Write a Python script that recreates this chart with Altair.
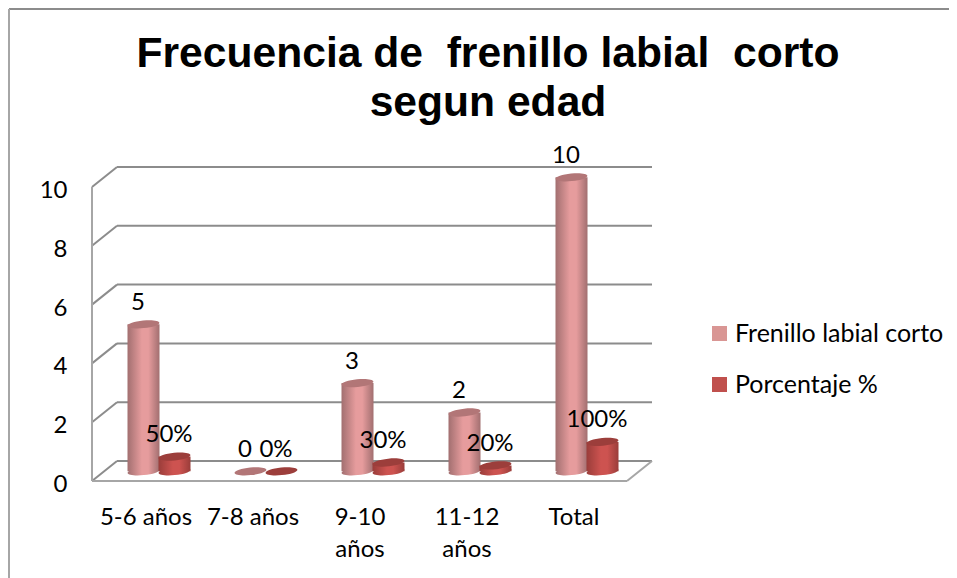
import json
import altair as alt
import pandas as pd

categories = [["5-6 años"], ["7-8 años"], ["9-10", "años"], ["11-12", "años"], ["Total"]]
frenillo = [5, 0, 3, 2, 10]
porcentaje = [0.5, 0.0, 0.3, 0.2, 1.0]
series_names = ["Frenillo labial corto", "Porcentaje %"]
title_lines = ["Frecuencia de \u00a0frenillo labial \u00a0corto", "segun edad"]
y_ticks = [0, 2, 4, 6, 8, 10]

FONT = "Lato"
FS = 24
PX_X = 107.0      # pixels per category
PX_Y = 29.4       # pixels per value unit
VIEW_W, VIEW_H = 560, 321
DEPTH_X = 25 / PX_X
DEPTH_Y = 20 / PX_Y
BASE = 0.33
HALF = 16 / PX_X
GRID = "#8c8c8c"

x_scale = alt.Scale(domain=[-0.5, -0.5 + VIEW_W / PX_X], nice=False, zero=False)
y_scale = alt.Scale(domain=[0, VIEW_H / PX_Y], nice=False, zero=False)


def bars(values, offset_px):
    c = [i + offset_px / PX_X for i in range(len(values))]
    return pd.DataFrame({
        "c": c,
        "x0": [v - HALF for v in c],
        "x1": [v + HALF for v in c],
        "base": [BASE] * len(values),
        "top": [BASE + v for v in values],
        "v": values,
    })


pink = bars(frenillo, -2)
red = bars(porcentaje, 29)

left, right_front, right_back = -0.5, 4.5, -0.5 + VIEW_W / PX_X
back_left = left + DEPTH_X
back = pd.DataFrame({"y": y_ticks})
back["yb"] = back["y"] + DEPTH_Y
back["xa"], back["xb"], back["xc"] = left, back_left, right_back
edges = pd.DataFrame({
    "x": [left, left, right_front],
    "x2": [left, right_front, right_back],
    "y": [0, 0, 0],
    "y2": [10, 0, DEPTH_Y],
})

X = alt.X("x:Q", scale=x_scale, title=None, axis=alt.Axis(
    values=list(range(5)), domain=False, ticks=False, grid=False,
    labelExpr=json.dumps(categories) + "[datum.value]",
    labelFont=FONT, labelFontSize=FS, labelColor="#000000", labelPadding=36,
    labelLineHeight=32, labelOverlap=False, labelBaseline="middle", labelFlush=False))
Y = alt.Y("y:Q", scale=y_scale, title=None, axis=alt.Axis(
    values=y_ticks, domain=False, ticks=False, grid=False, labelPadding=25,
    labelFont=FONT, labelFontSize=FS, labelColor="#000000", labelOffset=3.5))

wall = alt.Chart(back).mark_rule(color=GRID, strokeWidth=2).encode(
    x=alt.X("xb:Q", scale=x_scale), x2="xc:Q",
    y=alt.Y("yb:Q", scale=y_scale))
diag = alt.Chart(back).mark_rule(color=GRID, strokeWidth=2).encode(
    x=alt.X("xa:Q", scale=x_scale), x2="xb:Q",
    y=alt.Y("y:Q", scale=y_scale), y2="yb:Q")
edge = alt.Chart(edges).mark_rule(color="#a6a6a6", strokeWidth=2).encode(
    x=X, x2="x2:Q", y=Y, y2="y2:Q")

frame_top = alt.Chart(pd.DataFrame({"a": [0]})).mark_rule(color=GRID, strokeWidth=2).encode(
    x=alt.value(-83), x2=alt.value(857), y=alt.value(-151))
frame_left = alt.Chart(pd.DataFrame({"a": [0]})).mark_rule(color="#a6a6a6", strokeWidth=2).encode(
    x=alt.value(-83), y=alt.value(-151), y2=alt.value(418))

ELLIPSE = "M-1,0A1,0.24 0 1,1 1,0A1,0.24 0 1,1 -1,0Z"


def cyl(df, dark, light, top_col):
    grad = alt.LinearGradient(gradient="linear", x1=0, x2=1, y1=0, y2=0, stops=[
        alt.GradientStop(color=dark, offset=0),
        alt.GradientStop(color=light, offset=0.45),
        alt.GradientStop(color=light, offset=0.65),
        alt.GradientStop(color=dark, offset=1)])
    nz = df[df["v"] > 0]
    sx = alt.X("c:Q", scale=x_scale)
    bottom = alt.Chart(nz).mark_point(shape=ELLIPSE, size=1024, filled=True, opacity=1,
                                      fill=grad, strokeWidth=0, angle=354).encode(
        x=sx, y=alt.Y("base:Q", scale=y_scale))
    body = alt.Chart(nz).mark_bar(fill=grad, strokeWidth=0).encode(
        x=alt.X("x0:Q", scale=x_scale), x2="x1:Q",
        y=alt.Y("base:Q", scale=y_scale), y2="top:Q")
    cap = alt.Chart(df).mark_point(shape=ELLIPSE, size=1024, filled=True, opacity=1,
                                   fill=top_col, strokeWidth=0, angle=354).encode(
        x=sx, y=alt.Y("top:Q", scale=y_scale))
    return [bottom, body, cap]


legend_df = pd.concat([pink.assign(serie=series_names[0]), red.assign(serie=series_names[1])])
legend_layer = alt.Chart(legend_df).mark_bar(opacity=0).encode(
    x=alt.X("x0:Q", scale=x_scale), x2="x1:Q",
    y=alt.Y("base:Q", scale=y_scale), y2="top:Q",
    color=alt.Color("serie:N", scale=alt.Scale(domain=series_names, range=["#d99694", "#c0504d"]),
                    legend=alt.Legend(title=None, orient="none", legendX=615, legendY=161,
                                      symbolType="square", symbolSize=225, symbolOpacity=1,
                                      symbolStrokeWidth=0, labelFont=FONT, labelFontSize=25,
                                      labelColor="#000000", labelOffset=3, rowPadding=25,
                                      labelLimit=300)))


def labels(df, fmt=None):
    txt = alt.Text("v:Q", format=fmt) if fmt else alt.Text("v:Q")
    return alt.Chart(df).mark_text(font=FONT, fontSize=FS, color="#000000", dx=-5.5, dy=-21.5).encode(
        x=alt.X("c:Q", scale=x_scale), y=alt.Y("top:Q", scale=y_scale), text=txt)


axes = alt.Chart(pd.DataFrame({"x": [0], "y": [0]})).mark_point(opacity=0).encode(x=X, y=Y)

chart = alt.layer(
    axes, frame_top, frame_left, wall, diag, edge,
    *cyl(pink, "#a26f70", "#e69c9d", "#b27677"),
    *cyl(red, "#9a3d3a", "#cd5350", "#9c3e3b"),
    legend_layer,
    labels(pink), labels(red, ".0%"),
).properties(
    width=VIEW_W, height=VIEW_H,
    title=alt.TitleParams(title_lines, font="Liberation Sans", fontSize=42.6, fontWeight="bold",
                          color="#000000", anchor="start", frame="group", align="center",
                          dx=396, dy=160, lineHeight=49, baseline="bottom", offset=0),
    autosize=alt.AutoSizeParams(type="none"),
    padding={"left": 84, "top": 152, "right": 297, "bottom": 97},
).configure_view(stroke=None)

chart.save("out.html", embed_options={"renderer": "svg", "actions": False})
